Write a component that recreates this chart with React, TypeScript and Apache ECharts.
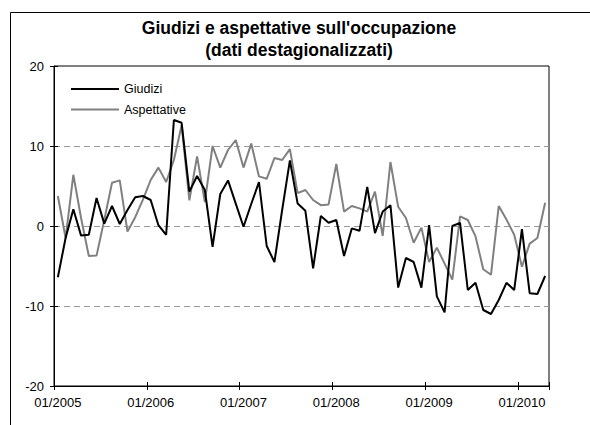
import React, { useEffect, useRef } from 'react';
import * as echarts from 'echarts';

const START_YEAR = 2005;
const N_MONTHS = 64;
const months: string[] = Array.from({ length: N_MONTHS }, (_, i) =>
  `${String((i % 12) + 1).padStart(2, '0')}/${START_YEAR + Math.floor(i / 12)}`
);

const giudizi = [
  -6.4, -1.5, 2.1, -1.2, -1.1, 3.5, 0.3, 2.5, 0.25, 2.0, 3.6, 3.75,
  3.25, 0.1, -1.1, 13.25, 12.9, 4.3, 6.25, 4.5, -2.6, 4.0, 5.7, 2.8,
  -0.1, 2.75, 5.5, -2.5, -4.5, 2.0, 8.2, 2.8, 1.9, -5.3, 1.25, 0.4,
  0.75, -3.75, -0.3, -0.6, 4.9, -0.9, 1.8, 2.6, -7.7, -4.0, -4.5, -7.7,
  0.1, -8.8, -10.8, 0.0, 0.4, -8.0, -7.1, -10.5, -11.0, -9.25, -7.1, -8.0,
  -0.4, -8.4, -8.5, -6.25,
];

const aspettative = [
  3.75, -1.5, 6.4, 1.0, -3.75, -3.7, 0.75, 5.4, 5.7, -0.7, 1.1, 3.3,
  5.75, 7.3, 5.5, 8.25, 12.6, 3.2, 8.7, 3.0, 10.0, 7.3, 9.5, 10.75,
  7.3, 10.3, 6.2, 5.9, 8.5, 8.25, 9.6, 4.1, 4.5, 3.25, 2.6, 2.7,
  7.75, 1.8, 2.5, 2.2, 1.8, 4.3, -1.25, 8.0, 2.4, 1.0, -2.1, -0.2,
  -4.5, -2.7, -4.7, -6.7, 1.2, 0.75, -1.3, -5.4, -6.1, 2.5, 0.8, -1.1,
  -5.1, -2.2, -1.5, 2.9,
];

const Y_MIN = -20;
const Y_MAX = 20;
const Y_STEP = 10;
const titleLines = ["Giudizi e aspettative sull'occupazione", '(dati destagionalizzati)'];
const seriesNames = ['Giudizi', 'Aspettative'];

export default function App() {
  const ref = useRef<HTMLDivElement>(null);
  useEffect(() => {
    if (!ref.current) return;
    const chart = echarts.init(ref.current, undefined, { renderer: 'svg' });
    const font = 'Liberation Sans';
    const tickStyle = { color: '#000', width: 1 };
    chart.setOption({
      animation: false,
      backgroundColor: '#ffffff',
      textStyle: { fontFamily: font },
      graphic: [
        {
          type: 'rect',
          silent: true,
          z: -10,
          shape: { x: 10.5, y: 12.5, width: 640, height: 520 },
          style: { fill: 'none', stroke: '#000', lineWidth: 1 },
        },
        {
          type: 'text',
          x: 299,
          y: 28,
          style: {
            text: titleLines[0],
            font: `bold 17.5px "${font}"`,
            fill: '#000',
            textAlign: 'center',
            textVerticalAlign: 'middle',
          },
        },
        {
          type: 'text',
          x: 299,
          y: 50,
          style: {
            text: titleLines[1],
            font: `bold 17.5px "${font}"`,
            fill: '#000',
            textAlign: 'center',
            textVerticalAlign: 'middle',
          },
        },
      ],
      grid: {
        left: 54,
        right: 41,
        top: 66,
        bottom: 39,
        show: true,
        borderColor: '#000',
        borderWidth: 1,
        backgroundColor: 'transparent',
      },
      legend: {
        orient: 'vertical',
        left: 66,
        top: 77,
        itemWidth: 48,
        itemHeight: 2,
        itemGap: 6.5,
        icon: 'rect',
        data: seriesNames,
        textStyle: { fontSize: 12.5, color: '#000', lineHeight: 14, fontFamily: font },
      },
      xAxis: [
        {
          type: 'category',
          data: months,
          boundaryGap: true,
          position: 'bottom',
          axisLine: { show: true, onZero: false, lineStyle: { color: '#000', width: 1 } },
          axisTick: { show: true, interval: 11, length: 4, lineStyle: tickStyle },
          axisLabel: { interval: 11, color: '#000', fontSize: 13, margin: 10, fontFamily: font },
          splitLine: { show: false },
        },
        {
          type: 'category',
          data: months,
          boundaryGap: true,
          position: 'bottom',
          offset: 0,
          axisLine: { show: false, onZero: false },
          axisTick: { show: true, inside: true, interval: 11, length: 4, lineStyle: tickStyle },
          axisLabel: { show: false },
          splitLine: { show: false },
        },
      ],
      yAxis: [
        {
          type: 'value',
          min: Y_MIN,
          max: Y_MAX,
          interval: Y_STEP,
          position: 'left',
          axisLine: { show: true, onZero: false, lineStyle: { color: '#000', width: 1 } },
          axisTick: { show: true, length: 4, lineStyle: tickStyle },
          axisLabel: { color: '#000', fontSize: 13, margin: 10, fontFamily: font },
          splitLine: {
            show: true,
            showMinLine: false,
            showMaxLine: false,
            lineStyle: { color: '#999', width: 1, type: [6, 4] },
          },
        },
        {
          type: 'value',
          min: Y_MIN,
          max: Y_MAX,
          interval: Y_STEP,
          position: 'left',
          offset: 0,
          axisLine: { show: false, onZero: false },
          axisTick: { show: true, inside: true, length: 4, lineStyle: tickStyle },
          axisLabel: { show: false },
          splitLine: { show: false },
        },
      ],
      series: [
        {
          name: seriesNames[1],
          type: 'line',
          data: aspettative,
          symbol: 'none',
          lineStyle: { color: '#808080', width: 2 },
          itemStyle: { color: '#808080' },
          z: 2,
        },
        {
          name: seriesNames[0],
          type: 'line',
          data: giudizi,
          symbol: 'none',
          lineStyle: { color: '#000', width: 2 },
          itemStyle: { color: '#000' },
          z: 3,
        },
      ],
    });
    return () => chart.dispose();
  }, []);
  return (
    <div
      ref={ref}
      style={{ position: 'absolute', left: 0, top: 0, width: 590, height: 425 }}
    />
  );
}
